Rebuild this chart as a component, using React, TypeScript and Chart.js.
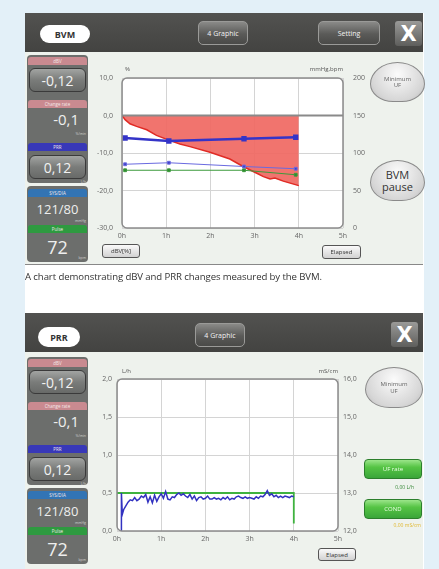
import React, { useEffect, useRef } from "react";
import { Chart, registerables } from "chart.js";
Chart.register(...registerables);

const FONT = "'Open Sans', 'DejaVu Sans', sans-serif";

// ---------- shared axis labels ----------
const hourLabels = ["0h", "1h", "2h", "3h", "4h", "5h"];

// ---------- BVM chart data ----------
const dbvTimes = [0, 0.07, 0.18, 0.33, 0.56, 0.78, 1.09, 1.31, 1.54, 1.99, 2.44, 2.74, 3.05, 3.2, 3.35, 3.46, 3.65, 4.0];
const dbvValues = [0, -1.1, -2.2, -2.9, -3.8, -5.3, -6.7, -7.6, -8.3, -9.8, -11.6, -13.6, -15.4, -16.3, -16.9, -16.7, -17.5, -18.7];
const vitalTimes = [0.07, 1.06, 2.76, 3.93];
const sysValues = [120, 116, 119, 121];
const diaValues = [85, 87, 82, 79];
const pulseValues = [77, 77, 77, 71];

// ---------- PRR chart data ----------
const prrTimes = [
  0.1, 0.1, 0.12, 0.15, 0.2, 0.25, 0.3, 0.35, 0.4, 0.45, 0.5, 0.55, 0.6, 0.65, 0.7, 0.75, 0.8, 0.85, 0.9, 0.95,
  1.0, 1.05, 1.1, 1.15, 1.2, 1.25, 1.3, 1.35, 1.4, 1.45, 1.5, 1.55, 1.6, 1.65, 1.7, 1.75, 1.8, 1.85, 1.9, 1.95,
  2.0, 2.05, 2.1, 2.15, 2.2, 2.25, 2.3, 2.35, 2.4, 2.45, 2.5, 2.55, 2.6, 2.65, 2.7, 2.75, 2.8, 2.85, 2.9, 2.95,
  3.0, 3.05, 3.1, 3.15, 3.2, 3.25, 3.3, 3.35, 3.4, 3.45, 3.5, 3.55, 3.6, 3.65, 3.7, 3.75, 3.8, 3.85, 3.9, 3.95, 4.0,
];
const prrValues = [
  0.0, 0.5, 0.22, 0.28, 0.33, 0.38, 0.41, 0.4, 0.44, 0.4, 0.42, 0.46, 0.44, 0.48, 0.38, 0.45, 0.37, 0.47, 0.39, 0.45,
  0.49, 0.43, 0.52, 0.42, 0.41, 0.45, 0.44, 0.48, 0.5, 0.47, 0.49, 0.46, 0.44, 0.48, 0.42, 0.46, 0.4, 0.44, 0.45, 0.42,
  0.43, 0.46, 0.42, 0.42, 0.44, 0.42, 0.43, 0.41, 0.44, 0.42, 0.45, 0.41, 0.43, 0.42, 0.45, 0.46, 0.44, 0.43, 0.45, 0.43,
  0.44, 0.43, 0.42, 0.45, 0.43, 0.46, 0.45, 0.48, 0.53, 0.47, 0.49, 0.45, 0.47, 0.44, 0.46, 0.44, 0.46, 0.45, 0.44, 0.46, 0.45,
];
const ufTimes = [0, 4, 4];
const ufValues = [0.5, 0.5, 0.1];

const pts = (xs: number[], ys: number[]) => xs.map((x, i) => ({ x, y: ys[i] }));
const fmt = (v: number, d: number) => v.toFixed(d).replace(".", ",");

const framePlugin = {
  id: "frame",
  beforeDraw(chart: any) {
    const { ctx, chartArea: a } = chart;
    ctx.save();
    ctx.fillStyle = "#ffffff";
    ctx.beginPath();
    ctx.roundRect(a.left, a.top, a.width, a.height, 5);
    ctx.fill();
    ctx.restore();
  },
  afterDatasetsDraw(chart: any, _args: any, opts: any) {
    if (!opts || !opts.zero) return;
    const { ctx, chartArea: a } = chart;
    const y = chart.scales.y.getPixelForValue(0);
    ctx.save();
    ctx.strokeStyle = "#8a8a8a";
    ctx.lineWidth = 2;
    ctx.beginPath();
    ctx.moveTo(a.left, y);
    ctx.lineTo(a.right, y);
    ctx.stroke();
    ctx.restore();
  },
  afterDraw(chart: any) {
    const { ctx, chartArea: a } = chart;
    ctx.save();
    ctx.strokeStyle = "#8c8c8c";
    ctx.lineWidth = 1.5;
    ctx.beginPath();
    ctx.roundRect(a.left, a.top, a.width, a.height, 5);
    ctx.stroke();
    ctx.restore();
  },
};

const tickFont = { size: 7, family: FONT };

function xScale() {
  return {
    type: "linear",
    min: 0,
    max: 5,
    afterFit: (s: any) => { s.height = 17; },
    ticks: { stepSize: 1, padding: 4, color: "#666", font: tickFont, maxRotation: 0, callback: (v: number) => hourLabels[v] },
    grid: { color: "#d4d4d4", drawTicks: false },
    border: { display: false },
  };
}

function bvmConfig(): any {
  return {
    type: "line",
    data: {
      datasets: [
        { data: pts(vitalTimes, sysValues), yAxisID: "y1", borderColor: "#3434c8", backgroundColor: "#3434c8", borderWidth: 2.5, pointStyle: "rect", pointRadius: 2, order: 1 },
        { data: pts(vitalTimes, diaValues), yAxisID: "y1", borderColor: "#6a6ae0", backgroundColor: "#4040c8", borderWidth: 1, pointStyle: "rect", pointRadius: 2, order: 2 },
        { data: pts(vitalTimes, pulseValues), yAxisID: "y1", borderColor: "#3c9a3c", backgroundColor: "#2f8a2f", borderWidth: 1, pointStyle: "rect", pointRadius: 2, order: 3 },
        { data: pts(dbvTimes, dbvValues), yAxisID: "y", borderColor: "#e02b25", backgroundColor: "rgba(240,104,98,0.92)", borderWidth: 1.5, pointRadius: 0, fill: "origin", order: 10 },
      ],
    },
    options: {
      responsive: false,
      animation: false,
      devicePixelRatio: 1,
      layout: { padding: { top: 18, left: 0, right: 0, bottom: 0 } },
      plugins: { legend: { display: false }, tooltip: { enabled: false }, frame: { zero: true } },
      scales: {
        x: xScale(),
        y: {
          position: "left", min: -30, max: 10,
          afterFit: (s: any) => { s.width = 34; },
          ticks: { stepSize: 10, padding: 9, color: "#666", font: tickFont, callback: (v: number) => fmt(v, 1) },
          grid: { color: "#d4d4d4", drawTicks: false },
          border: { display: false },
        },
        y1: {
          position: "right", min: 0, max: 200,
          afterFit: (s: any) => { s.width = 25; },
          ticks: { stepSize: 50, padding: 10, color: "#666", font: tickFont, callback: (v: number) => String(v) },
          grid: { display: false, drawTicks: false },
          border: { display: false },
        },
      },
    },
    plugins: [framePlugin],
  };
}

function prrConfig(): any {
  return {
    type: "line",
    data: {
      datasets: [
        { data: pts(prrTimes, prrValues), yAxisID: "y", borderColor: "#3232c0", borderWidth: 1.5, pointRadius: 0, order: 1 },
        { data: pts(ufTimes, ufValues), yAxisID: "y", borderColor: "#3fb23f", borderWidth: 1.8, pointRadius: 0, order: 2 },
      ],
    },
    options: {
      responsive: false,
      animation: false,
      devicePixelRatio: 1,
      layout: { padding: { top: 17, left: 0, right: 0, bottom: 0 } },
      plugins: { legend: { display: false }, tooltip: { enabled: false }, frame: { zero: false } },
      scales: {
        x: xScale(),
        y: {
          position: "left", min: 0, max: 2,
          afterFit: (s: any) => { s.width = 32; },
          ticks: { stepSize: 0.5, padding: 5, color: "#666", font: tickFont, callback: (v: number) => fmt(v, 1) },
          grid: { color: "#d4d4d4", drawTicks: false },
          border: { display: false },
        },
        y1: {
          position: "right", min: 12, max: 16,
          afterFit: (s: any) => { s.width = 27; },
          ticks: { stepSize: 1, padding: 5, color: "#666", font: tickFont, callback: (v: number) => fmt(v, 1) },
          grid: { display: false, drawTicks: false },
          border: { display: false },
        },
      },
    },
    plugins: [framePlugin],
  };
}

function ChartCanvas({ make, x, y, w, h }: any) {
  const ref = useRef<HTMLCanvasElement>(null);
  useEffect(() => {
    const chart = new Chart(ref.current as HTMLCanvasElement, make());
    return () => chart.destroy();
  }, []);
  return (
    <canvas ref={ref} width={w} height={h} style={{ position: "absolute", left: x, top: y, width: w, height: h }} />
  );
}

function Box({ x, y, w, h, style, children }: any) {
  return (
    <div style={{ position: "absolute", left: x, top: y, width: w, height: h, boxSizing: "border-box", ...style }}>
      {children}
    </div>
  );
}

function Txt({ x, y, w, size, color, align, weight, children, lh, ls }: any) {
  return (
    <div style={{ position: "absolute", left: x, top: y, width: w, fontSize: size, color, textAlign: align || "left", fontWeight: weight || 400, lineHeight: lh ? lh + "px" : 1, whiteSpace: "pre", fontFamily: FONT, letterSpacing: ls || 0 }}>
      {children}
    </div>
  );
}

const centerFlex = { display: "flex", alignItems: "center", justifyContent: "center", textAlign: "center" as const, fontFamily: FONT };

function DarkButton({ x, y, w, h, label }: any) {
  return (
    <Box x={x} y={y} w={w} h={h} style={{ ...centerFlex, borderRadius: 5, border: "1px solid #9a9a98", background: "linear-gradient(#8a8a88, #5a5a58 55%, #4a4a48)", color: "#f2f2f2", fontSize: 7 }}>
      {label}
    </Box>
  );
}

function LightButton({ x, y, w, h, label }: any) {
  return (
    <Box x={x} y={y} w={w} h={h} style={{ ...centerFlex, borderRadius: 3, border: "1px solid #555", background: "linear-gradient(#fafafa, #d2d2d2)", color: "#333", fontSize: 6 }}>
      {label}
    </Box>
  );
}

function Blob({ x, y, w, h, label, size, color }: any) {
  return (
    <Box x={x} y={y} w={w} h={h} style={{ ...centerFlex, borderRadius: "50% 50% 42% 42% / 55% 55% 45% 45%", border: "1px solid #8a8a8a", background: "radial-gradient(ellipse at 50% 30%, #fbfbfb, #d6d6d6 70%, #b8b8b8)", color, fontSize: size, lineHeight: 1.05, whiteSpace: "pre" }}>
      {label}
    </Box>
  );
}

function GreenButton({ x, y, w, h, label }: any) {
  return (
    <Box x={x} y={y} w={w} h={h} style={{ ...centerFlex, borderRadius: 4, border: "1px solid #2c7f2c", background: "linear-gradient(#9be58a, #55c444 40%, #3aa53a)", color: "#eaffe4", fontSize: 6 }}>
      {label}
    </Box>
  );
}

function Header({ y0, title, pill, graphic, setting, close }: any) {
  return (
    <>
      <Box x={25} y={y0} w={398} h={39} style={{ background: "linear-gradient(#525250, #434341)" }} />
      <Box x={pill[0]} y={pill[1]} w={pill[2]} h={pill[3]} style={{ ...centerFlex, background: "#fff", borderRadius: 10, color: "#333", fontSize: 9, fontWeight: 700 }}>{title}</Box>
      <DarkButton x={graphic[0]} y={graphic[1]} w={50} h={24} label="4 Graphic" />
      {setting ? <DarkButton x={setting[0]} y={setting[1]} w={62} h={24} label="Setting" /> : null}
      <Box x={close[0]} y={close[1]} w={27} h={25} style={{ ...centerFlex, borderRadius: 3, background: "linear-gradient(#9a9a98, #5e5e5c)", color: "#fff", fontSize: 21, fontWeight: 700, fontFamily: "'DejaVu Sans', sans-serif" }}>X</Box>
    </>
  );
}

function PanelLabel({ T, y, text, bg }: any) {
  return (
    <Box x={28} y={T + y} w={59} h={8} style={{ ...centerFlex, background: bg, borderRadius: "3px 3px 0 0", color: "#f4e8e8", fontSize: 4.5 }}>
      {text}
    </Box>
  );
}

function ValueBox({ T, y, text }: any) {
  return (
    <Box x={29} y={T + y} w={57} h={24} style={{ ...centerFlex, borderRadius: 6, border: "1px solid #3a3a3a", background: "linear-gradient(#a2a4a2, #7a7c7a 50%, #686a68)", color: "#f2f2f2", fontSize: 14 }}>
      {text}
    </Box>
  );
}

function LeftPanel({ T }: any) {
  return (
    <>
      <Box x={27} y={T} w={61} h={128} style={{ background: "#6c6e6c", borderRadius: 4 }} />
      <Box x={27} y={T + 131} w={61} h={76} style={{ background: "#6c6e6c", borderRadius: 4 }} />
      <PanelLabel T={T} y={2} text="dBV" bg="#c98a90" />
      <ValueBox T={T} y={13} text="-0,12" />
      <PanelLabel T={T} y={45} text="Change rate" bg="#c98a90" />
      <Txt x={29} y={T + 57} w={50} size={15} color="#eeeeee" align="right">-0,1</Txt>
      <Txt x={29} y={T + 77} w={57} size={3.5} color="#cfcfcf" align="right">%/min</Txt>
      <PanelLabel T={T} y={88} text="PRR" bg="#3838b8" />
      <ValueBox T={T} y={100} text="0,12" />
      <Txt x={29} y={T + 125} w={57} size={3.5} color="#cfcfcf" align="right">L/h</Txt>
      <PanelLabel T={T} y={134} text="SYS/DIA" bg="#3274b4" />
      <Txt x={27} y={T + 148} w={61} size={13} color="#eeeeee" align="center">121/80</Txt>
      <Txt x={29} y={T + 164} w={57} size={3.5} color="#cfcfcf" align="right">mmHg</Txt>
      <PanelLabel T={T} y={170} text="Pulse" bg="#2e9a40" />
      <Txt x={27} y={T + 183} w={61} size={18} color="#eeeeee" align="center">72</Txt>
      <Txt x={29} y={T + 201} w={57} size={3.5} color="#cfcfcf" align="right">bpm</Txt>
    </>
  );
}

export default function App() {
  return (
    <div style={{ position: "absolute", left: 0, top: 0, width: 439, height: 569, background: "#e3f0f8", overflow: "hidden", fontFamily: FONT }}>
      <Box x={25} y={13} w={399} h={556} style={{ background: "#ffffff" }} />

      {/* ---------- top screen (BVM) ---------- */}
      <Box x={25} y={13} w={398} h={252} style={{ background: "#eef2ed", borderBottom: "1px solid #888" }} />
      <Header y0={13} title="BVM" pill={[40, 25, 50, 18]} graphic={[198, 21]} setting={[318, 21]} close={[395, 21]} />
      <LeftPanel T={55} />
      <ChartCanvas make={bvmConfig} x={88} y={60} w={280} h={185} />
      <Txt x={125} y={66} size={6} color="#555">%</Txt>
      <Txt x={280} y={66} w={63} size={6} color="#555" align="right">mmHg,bpm</Txt>
      <LightButton x={102} y={244} w={38} h={14} label="dBV[%]" />
      <LightButton x={322} y={245} w={39} h={14} label="Elapsed" />
      <Blob x={370} y={62} w={55} h={40} label={"Minimum\nUF"} size={6} color="#666" />
      <Blob x={370} y={160} w={55} h={41} label={"BVM\npause"} size={11} color="#333" />

      {/* ---------- caption ---------- */}
      <Txt x={25} y={272} size={9.6} color="#333" ls={-0.1}>A chart demonstrating dBV and PRR changes measured by the BVM.</Txt>

      {/* ---------- bottom screen (PRR) ---------- */}
      <Box x={25} y={313} w={398} h={256} style={{ background: "#eef2ed" }} />
      <Header y0={313} title="PRR" pill={[38, 327, 42, 20]} graphic={[195, 323]} setting={null} close={[391, 322]} />
      <LeftPanel T={357} />
      <ChartCanvas make={prrConfig} x={85} y={362} w={280} h={186} />
      <Txt x={122} y={368} size={6} color="#555">L/h</Txt>
      <Txt x={290} y={368} w={48} size={6} color="#555" align="right">mS/cm</Txt>
      <LightButton x={318} y={548} w={38} h={13} label="Elapsed" />
      <Blob x={365} y={367} w={58} h={41} label={"Minimum\nUF"} size={6} color="#666" />
      <GreenButton x={364} y={459} w={58} h={20} label="UF rate" />
      <Txt x={364} y={485} w={50} size={5} color="#3a8a3a" align="right">0,00 L/h</Txt>
      <GreenButton x={364} y={499} w={58} h={20} label="COND" />
      <Txt x={364} y={523} w={57} size={5} color="#e0b830" align="right">0,00 mS/cm</Txt>
    </div>
  );
}
